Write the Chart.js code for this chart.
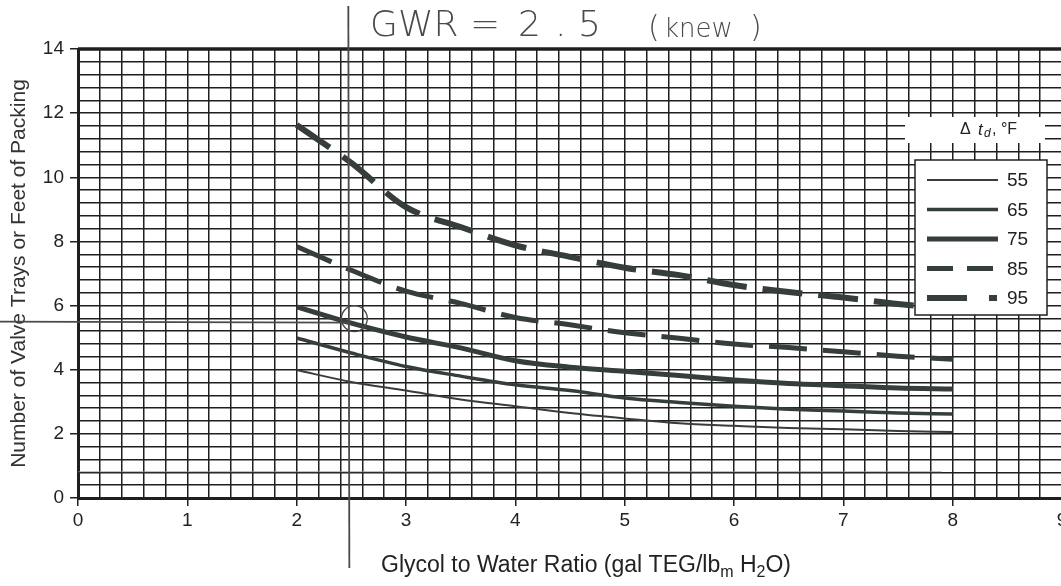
<!DOCTYPE html>
<html lang="en">
<head>
    <meta charset="UTF-8">
    <title>Trays vs Glycol to Water Ratio</title>
    <script src="https://cdn.jsdelivr.net/npm/chart.js"></script>
    <style>
        html, body { margin: 0; padding: 0; background: #fff; overflow: hidden; }
        .chart-wrap { width: 1061px; height: 586px; overflow: hidden; position: relative; }
        canvas { display: block; }
    </style>
</head>
<body>
    <div class="chart-wrap">
        <canvas id="trayChart" width="1075" height="586"></canvas>
    </div>
<script>
// glycol to water ratio, gal TEG / lbm H2O
const ratio = [2, 2.5, 3, 3.5, 4, 4.5, 5, 5.5, 6, 6.5, 7, 7.5, 8];

// number of trays for each dew point depression (°F)
const trays55 = [3.99, 3.62, 3.35, 3.07, 2.86, 2.65, 2.48, 2.33, 2.25, 2.18, 2.14, 2.09, 2.06];
const trays65 = [4.99, 4.52, 4.10, 3.80, 3.53, 3.35, 3.12, 2.98, 2.86, 2.77, 2.71, 2.65, 2.62];
const trays75 = [5.96, 5.45, 5.02, 4.68, 4.28, 4.08, 3.95, 3.82, 3.68, 3.57, 3.50, 3.43, 3.40];
const trays85 = [7.84, 7.10, 6.45, 6.07, 5.63, 5.40, 5.15, 4.98, 4.80, 4.69, 4.56, 4.42, 4.33];
const trays95 = [11.63, 10.45, 9.07, 8.45, 7.88, 7.52, 7.18, 6.95, 6.64, 6.42, 6.25, 6.05, 5.90];

const seriesLabels = ['55', '65', '75', '85', '95'];
const xTickLabels = [0, 1, 2, 3, 4, 5, 6, 7, 8, 9];
const yTickLabels = [0, 2, 4, 6, 8, 10, 12, 14];

const gwrChosen = 2.5;
const traysRead = 5.5;

const ink = '#363e3a';
const gridInk = '#1f1f1f';
const pencil = '#4a4a4a';
const sans = '"Liberation Sans", Arial, sans-serif';

function pts(ys) {
    return ratio.map((x, i) => ({ x: x, y: ys[i] }));
}

const styles = [
    { width: 2,   dash: [],       legendDash: [] },
    { width: 3.5, dash: [],       legendDash: [] },
    { width: 5,   dash: [],       legendDash: [] },
    { width: 5,   dash: [38, 16], legendDash: [26, 14] },
    { width: 6,   dash: [40, 16], legendDash: [40, 22, 8, 22] }
];
const seriesData = [trays55, trays65, trays75, trays85, trays95];

const datasets = seriesData.map((ys, i) => ({
    label: seriesLabels[i],
    data: pts(ys),
    borderColor: ink,
    borderWidth: styles[i].width,
    borderDash: styles[i].dash,
    pointRadius: 0,
    cubicInterpolationMode: 'monotone',
    fill: false
}));

function isLabelled(v, list) {
    return list.some(t => Math.abs(t - v) < 1e-6);
}

// legend box, axis title with subscripts and the pencil marks
const overlay = {
    id: 'overlay',
    afterDraw(chart) {
        const ctx = chart.ctx;
        const xs = chart.scales.x, ys = chart.scales.y;
        const area = chart.chartArea;
        ctx.save();

        // heavy top rule of the grid
        ctx.strokeStyle = gridInk;
        ctx.lineWidth = 3.5;
        ctx.beginPath();
        ctx.moveTo(area.left, area.top);
        ctx.lineTo(area.right + 20, area.top);
        ctx.stroke();

        // faint pen line near the bottom
        ctx.strokeStyle = 'rgba(110,160,180,0.7)';
        ctx.lineWidth = 1;
        ctx.beginPath();
        ctx.moveTo(xs.getPixelForValue(0), ys.getPixelForValue(0.82));
        ctx.lineTo(xs.getPixelForValue(7.9), ys.getPixelForValue(0.82));
        ctx.stroke();

        // Δt_d heading
        ctx.fillStyle = '#fff';
        ctx.fillRect(905, 117, 140, 26);
        ctx.fillStyle = '#222';
        ctx.textBaseline = 'middle';
        ctx.textAlign = 'left';
        ctx.font = '16px ' + sans;
        ctx.fillText('\u0394', 960, 130);
        ctx.font = 'italic 17px ' + sans;
        ctx.fillText('t', 978, 130);
        ctx.font = 'italic 12px ' + sans;
        ctx.fillText('d', 984, 134);
        ctx.font = '16px ' + sans;
        ctx.fillText(', \u00b0F', 992, 130);

        // legend
        const bx = 915, by = 160, bw = 132, bh = 155;
        ctx.fillStyle = '#fff';
        ctx.fillRect(bx, by, bw, bh);
        ctx.strokeStyle = '#222';
        ctx.lineWidth = 1.5;
        ctx.strokeRect(bx, by, bw, bh);
        chart.data.datasets.forEach((ds, i) => {
            const y = by + 20 + i * 29.5;
            ctx.strokeStyle = ink;
            ctx.lineWidth = ds.borderWidth;
            ctx.setLineDash(styles[i].legendDash);
            ctx.beginPath();
            ctx.moveTo(927, y);
            ctx.lineTo(998, y);
            ctx.stroke();
            ctx.setLineDash([]);
            ctx.fillStyle = '#222';
            ctx.font = '19px ' + sans;
            ctx.textAlign = 'left';
            ctx.fillText(ds.label, 1007, y + 1);
        });

        // x axis title with subscripts
        ctx.fillStyle = '#222';
        ctx.textBaseline = 'alphabetic';
        const parts = [
            ['Glycol to Water Ratio (gal TEG/lb', 23, 0],
            ['m', 16, 5],
            [' H', 23, 0],
            ['2', 16, 5],
            ['O)', 23, 0]
        ];
        let total = 0;
        parts.forEach(p => {
            ctx.font = p[1] + 'px ' + sans;
            total += ctx.measureText(p[0]).width;
        });
        let tx = 586 - total / 2;
        parts.forEach(p => {
            ctx.font = p[1] + 'px ' + sans;
            ctx.fillText(p[0], tx, 572 + p[2]);
            tx += ctx.measureText(p[0]).width;
        });

        // pencil marks
        const gx = xs.getPixelForValue(gwrChosen) - 3;
        const ty = ys.getPixelForValue(traysRead);
        ctx.strokeStyle = pencil;
        ctx.lineWidth = 1.8;
        ctx.beginPath();
        ctx.moveTo(gx, 6);
        ctx.lineTo(gx + 1, 568);
        ctx.stroke();
        ctx.beginPath();
        ctx.moveTo(0, ty);
        ctx.lineTo(gx, ty + 1);
        ctx.stroke();
        ctx.lineWidth = 1.4;
        ctx.beginPath();
        ctx.arc(gx + 6, ty - 3, 13, 0, Math.PI * 2);
        ctx.stroke();

        ctx.fillStyle = pencil;
        ctx.textBaseline = 'middle';
        ctx.font = '200 36px "DejaVu Sans", sans-serif';
        ctx.fillText('GWR', 370, 27);
        ctx.fillText('=', 470, 27);
        ctx.fillText('2', 518, 27);
        ctx.fillText('.', 555, 27);
        ctx.fillText('5', 578, 27);
        ctx.font = '200 30px "DejaVu Sans", sans-serif';
        ctx.fillText('(', 648, 29);
        ctx.font = '200 26px "DejaVu Sans", sans-serif';
        ctx.fillText('knew', 664, 30);
        ctx.font = '200 30px "DejaVu Sans", sans-serif';
        ctx.fillText(')', 750, 29);
        ctx.restore();
    }
};

const ctx = document.getElementById('trayChart').getContext('2d');
new Chart(ctx, {
    type: 'line',
    data: { datasets: datasets },
    options: {
        responsive: false,
        animation: false,
        layout: { padding: { top: 49, right: 13, left: 0, bottom: 0 } },
        plugins: {
            legend: { display: false },
            tooltip: { enabled: false }
        },
        scales: {
            x: {
                type: 'linear',
                min: 0,
                max: 9,
                afterFit: s => { s.height = 88; },
                border: { color: gridInk, width: 3 },
                grid: {
                    color: gridInk,
                    lineWidth: 1.5,
                    tickLength: 8,
                    tickColor: c => isLabelled(c.tick.value, xTickLabels) ? gridInk : 'rgba(0,0,0,0)'
                },
                ticks: {
                    stepSize: 0.2,
                    autoSkip: false,
                    maxRotation: 0,
                    padding: 3,
                    color: '#222',
                    font: { size: 19, family: sans },
                    callback: v => isLabelled(v, xTickLabels) ? String(Math.round(v)) : ''
                }
            },
            y: {
                type: 'linear',
                min: 0,
                max: 14,
                afterFit: s => { s.width = 78; },
                border: { color: gridInk, width: 3 },
                grid: {
                    color: gridInk,
                    lineWidth: 1.5,
                    tickLength: 8,
                    tickColor: c => isLabelled(c.tick.value, yTickLabels) ? gridInk : 'rgba(0,0,0,0)'
                },
                ticks: {
                    stepSize: 0.4,
                    autoSkip: false,
                    padding: 6,
                    color: '#222',
                    font: { size: 19, family: sans },
                    callback: v => isLabelled(v, yTickLabels) ? String(Math.round(v)) : ''
                },
                title: {
                    display: true,
                    text: 'Number of Valve Trays or Feet of Packing',
                    color: '#333',
                    padding: { top: 7, bottom: 0 },
                    font: { size: 21, family: sans }
                }
            }
        }
    },
    plugins: [overlay]
});
</script>
</body>
</html>
